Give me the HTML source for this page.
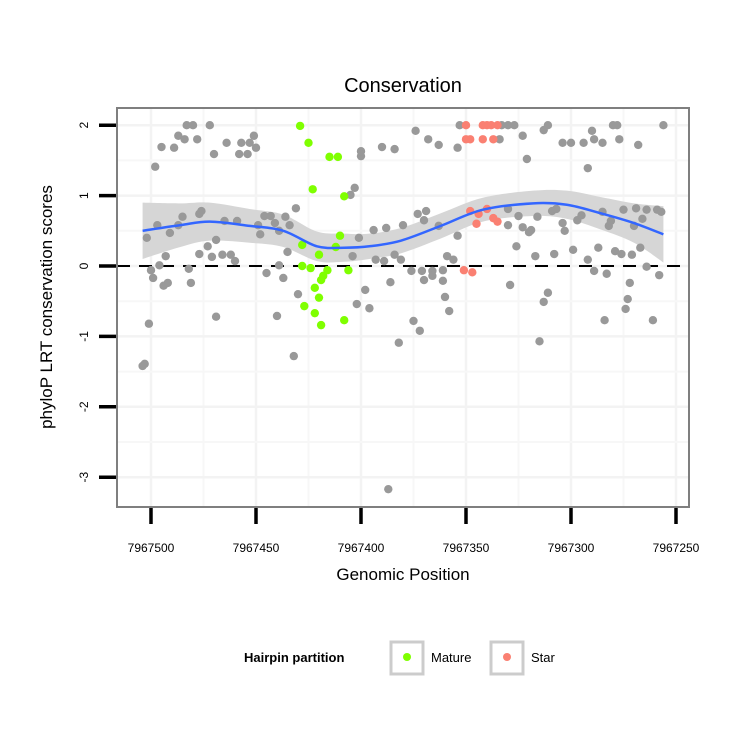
<!DOCTYPE html>
<html><head><meta charset="utf-8"><style>
body{margin:0;background:#fff;}
svg text{font-family:"Liberation Sans",sans-serif;}
</style></head><body>
<svg id="chart" width="750" height="750" xmlns="http://www.w3.org/2000/svg">
<rect width="750" height="750" fill="#fff"/>
<text x="403" y="92" font-size="20" text-anchor="middle">Conservation</text>
<g id="grid"></g>
<g id="band"></g>
<line id="zero" stroke="#000" stroke-width="2" stroke-dasharray="13,9"/>
<g id="pts"></g>
<g id="smooth"></g>
<rect x="117" y="108" width="572" height="399" fill="none" stroke="#7f7f7f" stroke-width="2"/>
<g id="axes"></g>
<text x="403" y="580" font-size="17" text-anchor="middle">Genomic Position</text>
<text transform="translate(52,307) rotate(-90)" font-size="17" text-anchor="middle">phyloP LRT conservation scores</text>
<g>
<text x="244" y="662" font-size="13" font-weight="bold">Hairpin partition</text>
<rect x="391" y="642" width="32" height="32" fill="#fff" stroke="#cccccc" stroke-width="3"/>
<circle cx="407" cy="657" r="4" fill="#7fff00"/>
<text x="431" y="662" font-size="13">Mature</text>
<rect x="491" y="642" width="32" height="32" fill="#fff" stroke="#cccccc" stroke-width="3"/>
<circle cx="507" cy="657" r="4" fill="#fa8072"/>
<text x="531" y="662" font-size="13">Star</text>
</g>
</svg>
<script>
const xTicks=[7967500,7967450,7967400,7967350,7967300,7967250];
const yTicks=[2,1,0,-1,-2,-3];
const grayPos=[7967504,7967503,7967501,7967502,7967500,7967499,7967498,7967497,7967496,7967495,7967494,7967492,7967493,7967491,7967489,7967487,7967487,7967485,7967484,7967483,7967482,7967481,7967480,7967478,7967477,7967476,7967477,7967473,7967472,7967471,7967470,7967469,7967469,7967466,7967465,7967464,7967462,7967460,7967459,7967458,7967457,7967454,7967453,7967451,7967450,7967449,7967448,7967446,7967443,7967445,7967441,7967440,7967439,7967439,7967437,7967436,7967435,7967434,7967432,7967431,7967430,7967405,7967404,7967403,7967402,7967401,7967400,7967400,7967398,7967396,7967394,7967393,7967390,7967389,7967388,7967387,7967386,7967384,7967384,7967382,7967381,7967380,7967376,7967375,7967374,7967373,7967372,7967371,7967370,7967370,7967369,7967368,7967366,7967366,7967363,7967363,7967361,7967361,7967360,7967359,7967358,7967356,7967354,7967354,7967353,7967334,7967333,7967330,7967327,7967330,7967330,7967329,7967326,7967325,7967323,7967323,7967321,7967320,7967319,7967317,7967316,7967315,7967313,7967313,7967311,7967311,7967309,7967308,7967307,7967304,7967304,7967303,7967300,7967299,7967297,7967295,7967294,7967292,7967292,7967290,7967289,7967289,7967287,7967285,7967285,7967284,7967283,7967282,7967281,7967280,7967279,7967278,7967277,7967276,7967275,7967274,7967273,7967272,7967271,7967270,7967269,7967268,7967267,7967266,7967264,7967264,7967261,7967259,7967258,7967257,7967256];
const grayScore=[-1.42,-1.39,-0.82,0.40,-0.06,-0.17,1.41,0.58,0.01,1.69,-0.28,-0.24,0.14,0.47,1.68,1.85,0.58,0.70,1.80,2.00,-0.04,-0.24,2.00,1.80,0.74,0.78,0.17,0.28,2.00,0.13,1.59,-0.72,0.37,0.16,0.64,1.75,0.16,0.07,0.64,1.59,1.75,1.59,1.75,1.85,1.68,0.58,0.45,0.71,0.71,-0.10,0.61,-0.71,0.01,0.50,-0.17,0.70,0.20,0.58,-1.28,0.82,-0.40,1.01,0.14,1.11,-0.54,0.40,1.56,1.63,-0.34,-0.60,0.51,0.09,1.69,0.07,0.54,-3.17,-0.23,0.16,1.66,-1.09,0.09,0.58,-0.07,-0.78,1.92,0.74,-0.92,-0.07,-0.20,0.65,0.78,1.80,-0.07,-0.14,0.57,1.72,-0.21,-0.06,-0.44,0.14,-0.64,0.09,1.68,0.43,2.00,1.80,2.00,2.00,2.00,0.81,0.58,-0.27,0.28,0.71,0.55,1.85,1.52,0.48,0.51,0.14,0.70,-1.07,1.93,-0.51,-0.38,2.00,0.78,0.17,0.81,0.61,1.75,0.50,1.75,0.23,0.65,0.72,1.75,0.09,1.39,1.92,1.80,-0.07,0.26,0.77,1.75,-0.77,-0.11,0.57,0.64,2.00,0.21,2.00,1.80,0.17,0.80,-0.61,-0.47,-0.24,0.16,0.57,0.82,1.72,0.26,0.67,0.80,-0.01,-0.77,0.80,-0.13,0.77,2.00];
const maturePos=[7967429,7967425,7967415,7967411,7967423,7967408,7967410,7967428,7967412,7967428,7967424,7967416,7967418,7967419,7967406,7967422,7967420,7967427,7967422,7967408,7967419,7967420];
const matureScore=[1.99,1.75,1.55,1.55,1.09,0.99,0.43,0.30,0.27,0.00,-0.03,-0.06,-0.14,-0.20,-0.06,-0.31,-0.45,-0.57,-0.67,-0.77,-0.84,0.16];
const starPos=[7967350,7967342,7967340,7967338,7967335,7967350,7967348,7967342,7967337,7967348,7967344,7967340,7967345,7967337,7967335,7967351,7967347];
const starScore=[2.00,2.00,2.00,2.00,2.00,1.80,1.80,1.80,1.80,0.78,0.74,0.81,0.60,0.68,0.63,-0.06,-0.09];
const smoothPos=[7967504,7967486,7967472,7967453,7967437,7967421,7967408,7967396,7967381,7967362,7967342,7967318,7967302,7967286,7967270,7967256];
const smoothFit=[0.50,0.58,0.63,0.57,0.50,0.28,0.26,0.28,0.36,0.57,0.80,0.89,0.87,0.75,0.61,0.45];
const smoothSe=[0.40,0.31,0.27,0.24,0.23,0.21,0.20,0.18,0.18,0.18,0.17,0.18,0.20,0.23,0.28,0.40];

const NS='http://www.w3.org/2000/svg';
function X(v){return 151+(7967500-v)*2.1;}
function Y(v){return 266-v*70.4;}
function mk(tag,attrs,parent){const e=document.createElementNS(NS,tag);for(const k in attrs)e.setAttribute(k,attrs[k]);parent.appendChild(e);return e;}
const grid=document.getElementById('grid');
mk('rect',{x:117,y:108,width:572,height:399,fill:'#fff'},grid);
// minor + major grid
for(let i=0;i<xTicks.length;i++){
  const gx=X(xTicks[i]);
  let g=mk('line',{x1:gx,x2:gx,y1:108,y2:507,stroke:'#f3f3f3','stroke-width':2.5},grid);
  
  
  if(i<xTicks.length-1){const mx=X((xTicks[i]+xTicks[i+1])/2);
    g=mk('line',{x1:mx,x2:mx,y1:108,y2:507,stroke:'#f7f7f7','stroke-width':2},grid);
    
    }
}
for(let i=0;i<yTicks.length;i++){
  const gy=Y(yTicks[i]);
  let g=mk('line',{x1:117,x2:689,y1:gy,y2:gy,stroke:'#f3f3f3','stroke-width':2.5},grid);
  
  
  if(i<yTicks.length-1){const my=Y((yTicks[i]+yTicks[i+1])/2);
    g=mk('line',{x1:117,x2:689,y1:my,y2:my,stroke:'#f7f7f7','stroke-width':2},grid);
    
    }
}
function curvePath(xs,ys){
  let d='M'+xs[0]+','+ys[0];
  for(let i=0;i<xs.length-1;i++){
    const x0=xs[Math.max(i-1,0)],y0=ys[Math.max(i-1,0)],x1=xs[i],y1=ys[i],x2=xs[i+1],y2=ys[i+1],x3=xs[Math.min(i+2,xs.length-1)],y3=ys[Math.min(i+2,xs.length-1)];
    d+=' C'+(x1+(x2-x0)/6)+','+(y1+(y2-y0)/6)+' '+(x2-(x3-x1)/6)+','+(y2-(y3-y1)/6)+' '+x2+','+y2;
  }
  return d;
}
const sx=smoothPos.map(X);
const up=smoothFit.map((f,i)=>Y(f+smoothSe[i]));
const lo=smoothFit.map((f,i)=>Y(f-smoothSe[i]));
const rx=sx.slice().reverse(),rlo=lo.slice().reverse();
let bandD=curvePath(sx,up)+' L'+curvePath(rx,rlo).slice(1)+' Z';
const band=mk('path',{d:bandD,fill:'#d6d6d6'},document.getElementById('band'));


const z=document.getElementById('zero');
z.setAttribute('x1',117);z.setAttribute('x2',689);z.setAttribute('y1',Y(0));z.setAttribute('y2',Y(0));
const pts=document.getElementById('pts');
for(let i=0;i<grayPos.length;i++){
  const c=mk('circle',{cx:X(grayPos[i]),cy:Y(grayScore[i]),r:4.2,fill:'#999999'},pts);
  
  
}
for(let i=0;i<maturePos.length;i++){
  const c=mk('circle',{cx:X(maturePos[i]),cy:Y(matureScore[i]),r:4.2,fill:'#7fff00'},pts);
  
  
}
for(let i=0;i<starPos.length;i++){
  const c=mk('circle',{cx:X(starPos[i]),cy:Y(starScore[i]),r:4.2,fill:'#fa8072'},pts);
  
  
}
const line=mk('path',{d:curvePath(sx,smoothFit.map(Y)),fill:'none',stroke:'#3366ff','stroke-width':2.5},document.getElementById('smooth'));


const axes=document.getElementById('axes');
for(const t of xTicks){
  const gx=X(t);
  const l=mk('line',{x1:gx,x2:gx,y1:508,y2:524,stroke:'#000','stroke-width':3.5},axes);
  
  
  const tx=mk('text',{x:gx,y:552,'font-size':12,'text-anchor':'middle'},axes);
  tx.textContent=t;
  
  
}
for(const t of yTicks){
  const gy=Y(t);
  const l=mk('line',{x1:99,x2:116,y1:gy,y2:gy,stroke:'#000','stroke-width':3.5},axes);
  
  
  const tx=mk('text',{transform:'translate(88,'+gy+') rotate(-90)','font-size':12,'text-anchor':'middle'},axes);
  tx.textContent=t;
  
  
}
</script>
</body></html>
